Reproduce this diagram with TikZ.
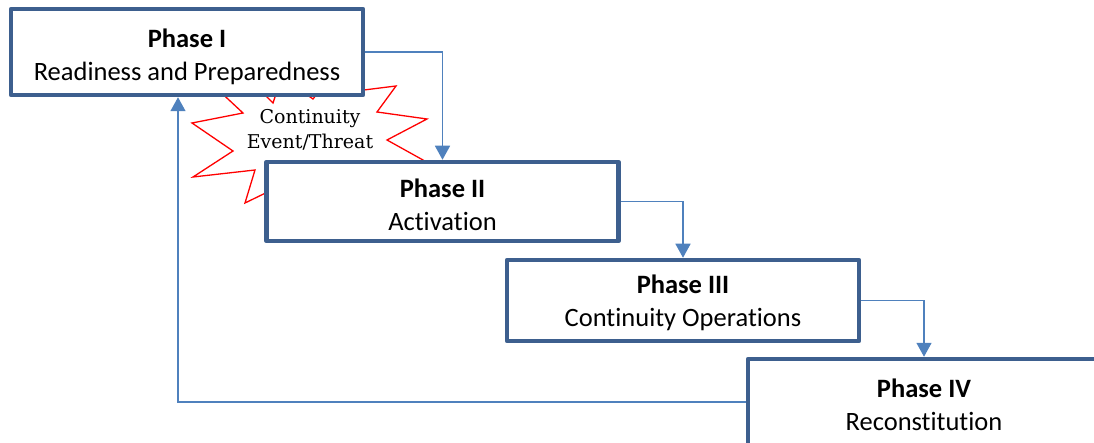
\documentclass[tikz,border=0pt]{standalone}
\usepackage{fontspec}
\setmainfont{Carlito}[Ligatures=NoCommon]
\newfontfamily\starfont{DejaVu Serif}
\usetikzlibrary{arrows.meta}
\definecolor{boxblue}{HTML}{3D5F8E}
\definecolor{arrowblue}{HTML}{4F81BD}
\begin{document}
\begin{tikzpicture}[x=1pt,y=-1pt,
  phase/.style={draw=boxblue, line width=4.5pt, fill=white, line join=round,
    inner sep=0pt, minimum width=352pt},
  phasetext/.style={align=center, inner sep=0pt, font=\fontsize{26.5}{33}\selectfont},
  flow/.style={draw=arrowblue, line width=1.6pt, -{Triangle[width=15pt,length=14pt]}},
  burst/.style={draw=red, line width=1.3pt, fill=white, line join=miter},
  bursttext/.style={font=\starfont\fontsize{19}{25}\selectfont, align=center, inner sep=0pt}]
\useasboundingbox (0,0) rectangle (1094,443);
% starburst (drawn behind the boxes)
\draw[burst] (214,86) -- (258,88) -- (273,103) -- (278,88) -- (300,90) -- (313,99)
  -- (320,90) -- (340,93) -- (396,86) -- (377,112) -- (427,119) -- (387,140)
  -- (423,160) -- (400,180) -- (300,175) -- (280,186) -- (245,203) -- (255,170)
  -- (193,177) -- (233,151) -- (192,123) -- (243,113) -- cycle;
\node[bursttext] (threat) at (310,130) {Continuity\\Event/Threat};
% phases
\node[phase, minimum height=86pt] (p1) at (187,52) {};
\node[phase, minimum height=79pt] (p2) at (442.5,201.5) {};
\node[phase, minimum height=81pt] (p3) at (683,300.5) {};
\node[phase, minimum height=86pt] (p4) at (924,402) {};
\node[phasetext] (t1) at ([yshift=-4.5pt]p1.center) {\textbf{Phase I}\\Readiness and Preparedness};
\node[phasetext] (t2) at ([yshift=-3pt]p2.center) {\textbf{Phase II}\\Activation};
\node[phasetext] (t3) at ([yshift=-2.5pt]p3.center) {\textbf{Phase III}\\Continuity Operations};
\node[phasetext] (t4) at ([yshift=-2.5pt]p4.center) {\textbf{Phase IV}\\Reconstitution};
% connectors
\draw[flow] (p1.east) -| (p2.north);
\draw[flow] (p2.east) -| (p3.north);
\draw[flow] (p3.east) -| (p4.north);
\draw[flow] (p4.west) -| ([xshift=-9pt]p1.south);
\end{tikzpicture}
\end{document}
